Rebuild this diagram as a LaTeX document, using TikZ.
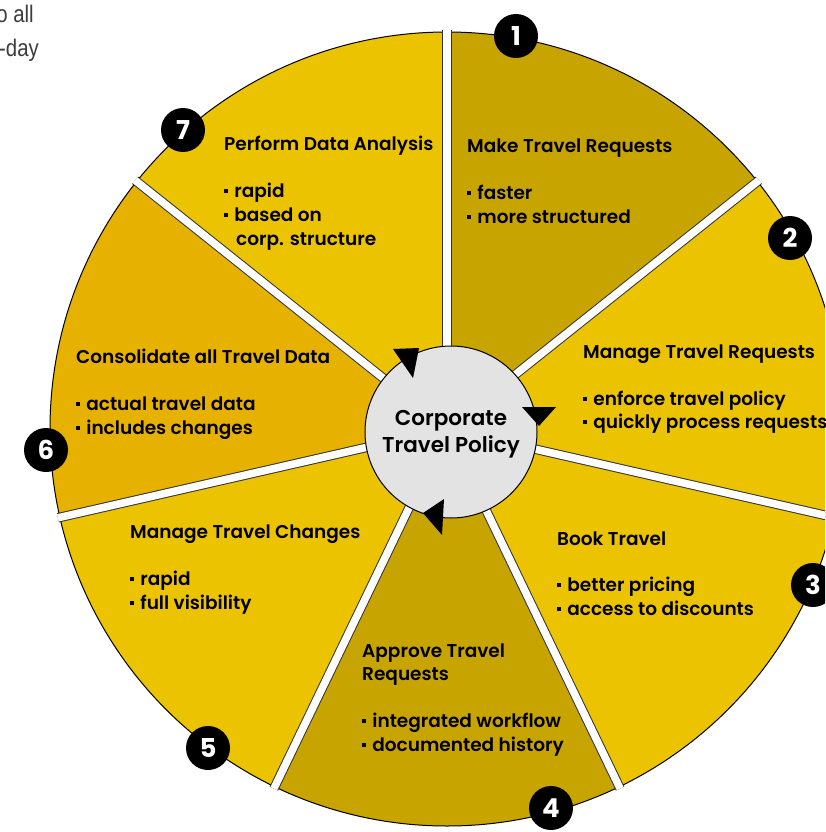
\documentclass[tikz,border=0pt]{standalone}
\usepackage{fontspec}
\setmainfont{Poppins}[UprightFont={* SemiBold}, BoldFont={* Bold}]
\newfontfamily\graytext{Liberation Sans}
\definecolor{dkgold}{RGB}{200,164,0}
\definecolor{ylw}{RGB}{235,195,0}
\definecolor{org}{RGB}{231,177,0}
\definecolor{hubgray}{RGB}{227,227,227}
\definecolor{txtgray}{RGB}{60,60,60}
\newcommand\sqb{\rule[0.22em]{0.2em}{0.2em}\hspace{0.35em}}
\begin{document}
\begin{tikzpicture}[x=1pt,y=-1pt,
  lbl/.style={anchor=base west, inner sep=0pt, font=\fontsize{18.5}{20}\selectfont},
  hubtext/.style={align=center, inner sep=0pt, font=\fontsize{21.5}{27}\selectfont},
  badge/.style={circle, fill=black, minimum size=44, inner sep=0pt, text=white, font=\bfseries\fontsize{26}{26}\selectfont},
  gaptext/.style={inner sep=0pt, text=txtgray, font=\graytext\fontsize{24}{24}\selectfont}]
\useasboundingbox (0,0) rectangle (825,832);
\clip (0,0) rectangle (825,832);
\fill[white] (0,0) rectangle (825,832);
% clipped text at top left
\node[gaptext, anchor=base east] (tl1) at (34,23) {\scalebox{0.85}[1]{o all}};
\node[gaptext, anchor=base east] (tl2) at (39,57) {\scalebox{0.85}[1]{-day}};
% wheel
\coordinate (C) at (447,429);
\def\R{397}
\foreach \a/\b/\c in {90/38.57/dkgold, 38.57/-12.86/ylw, -12.86/-64.29/ylw, -64.29/-115.71/dkgold, -115.71/-167.14/ylw, -167.14/-218.57/org, -218.57/-270/ylw}
  \fill[\c] (C) -- ++(-\a:\R) arc[start angle=-\a, end angle=-\b, radius=\R] -- cycle;
\draw[black, line width=1] (C) circle[radius=\R];
\begin{scope}
\clip (C) circle[radius=\R+2];
\foreach \a in {90,38.57,-12.86,-64.29,-115.71,-167.14,-218.57}{
  \draw[black!80, line width=9.5] (C) -- ++(-\a:\R+10);
  \draw[white, line width=7.5] (C) -- ++(-\a:\R+10);}
\end{scope}
% hub
\node[circle, draw=black, line width=1, fill=hubgray, minimum size=172, inner sep=0pt] (hub) at (451,432) {};
\node[hubtext] (hubtxt) at (451,434) {Corporate\\Travel Policy};
% rotation arrowheads
\fill[black] (393,349) -- (419,348) -- (413,378) -- cycle;
\fill[black] (522,407) -- (556,407) -- (539,426) -- cycle;
\fill[black] (444,499) -- (442,535) -- (423,513) -- cycle;
% segment 1
\node[lbl] (s1a) at (467,153) {Make Travel Requests};
\node[lbl] (s1b) at (467,199) {\sqb faster};
\node[lbl] (s1c) at (467,223) {\sqb more structured};
% segment 2
\node[lbl] (s2a) at (583,358) {Manage Travel Requests};
\node[lbl] (s2b) at (583,405) {\sqb enforce travel policy};
\node[lbl] (s2c) at (583,428) {\sqb quickly process requests};
% segment 3
\node[lbl] (s3a) at (557,545) {Book Travel};
\node[lbl] (s3b) at (557,591) {\sqb better pricing};
\node[lbl] (s3c) at (557,615) {\sqb access to discounts};
% segment 4
\node[lbl] (s4a) at (362,657) {Approve Travel};
\node[lbl] (s4b) at (362,680) {Requests};
\node[lbl] (s4c) at (362,727) {\sqb integrated workflow};
\node[lbl] (s4d) at (362,751) {\sqb documented history};
% segment 5
\node[lbl] (s5a) at (130,538) {Manage Travel Changes};
\node[lbl] (s5b) at (130,585) {\sqb rapid};
\node[lbl] (s5c) at (130,609) {\sqb full visibility};
% segment 6
\node[lbl] (s6a) at (76,363) {Consolidate all Travel Data};
\node[lbl] (s6b) at (76,410) {\sqb actual travel data};
\node[lbl] (s6c) at (76,434) {\sqb includes changes};
% segment 7
\node[lbl] (s7a) at (224,150) {Perform Data Analysis};
\node[lbl] (s7b) at (224,197) {\sqb rapid};
\node[lbl] (s7c) at (224,221) {\sqb based on};
\node[lbl] (s7d) at (236,245) {corp. structure};
% badges
\node[badge] (b1) at (516,36) {1};
\node[badge] (b2) at (790,238) {2};
\node[badge] (b3) at (813,585) {3};
\node[badge] (b4) at (551,808) {4};
\node[badge] (b5) at (208,748) {5};
\node[badge] (b6) at (46,450) {6};
\node[badge] (b7) at (183,130) {7};
\end{tikzpicture}
\end{document}
